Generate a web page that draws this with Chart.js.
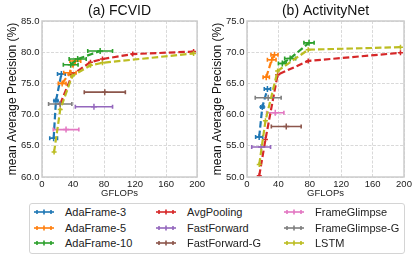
<!DOCTYPE html>
<html>
<head>
<meta charset="utf-8">
<script src="https://cdn.jsdelivr.net/npm/chart.js@4.4.0/dist/chart.umd.min.js"></script>
<style>
  body { margin: 0; background: #fff; }
  #wrap { position: relative; width: 415px; height: 258px; font-family: "Liberation Sans", Arial, sans-serif; }
  canvas { position: absolute; top: 0; }
  #c1 { left: 0; }
  #c2 { left: 205px; }
  #legend { position: absolute; left: 29px; top: 203px; width: 374px; height: 49px; border: 1px solid #d4d4d4; border-radius: 3px; background: #fff; }
  .item { position: absolute; height: 14px; display: flex; align-items: center; font-size: 11px; color: #222; white-space: nowrap; }
  .item svg { margin-right: 11px; flex: none; }
</style>
</head>
<body>
<div id="wrap">
  <canvas id="c1" width="207" height="200"></canvas>
  <canvas id="c2" width="210" height="200"></canvas>
  <div id="legend"></div>
</div>
<script>
// series, in legend order (matplotlib tab10 colours)
const names = ['AdaFrame-3', 'AdaFrame-5', 'AdaFrame-10', 'AvgPooling', 'FastForward', 'FastForward-G', 'FrameGlimpse', 'FrameGlimpse-G', 'LSTM'];
const colors = ['#1f77b4', '#ff7f0e', '#2ca02c', '#d62728', '#9467bd', '#8c564b', '#e377c2', '#7f7f7f', '#bcbd22'];
const withLine = [true, true, true, true, false, false, false, false, true];

// FCVID points: [GFLOPs, mAP, GFLOPs error]
const fcvidAda3 = [[15, 66.2, 5], [18, 72.2, 2.5], [25, 76.5, 5]];
const fcvidAda5 = [[26, 75.0, 5], [36, 76.7, 8], [43, 78.6, 7]];
const fcvidAda10 = [[37, 78.0, 9.5], [46, 78.9, 11], [75, 80.2, 16]];
const fcvidAvgPool = [[23.5, 71.7], [39, 76.4], [62.5, 78.4], [78, 78.9], [117, 79.7], [195.5, 80.1]];
const fcvidFastFwd = [[67, 71.25, 24]];
const fcvidFastFwdG = [[81, 73.6, 26.5]];
const fcvidGlimpse = [[31, 67.6, 16.5]];
const fcvidGlimpseG = [[23.5, 71.7, 15]];
const fcvidLstm = [[15.6, 64.0], [23.5, 70.8], [39, 76.2], [62.5, 77.9], [78, 78.3], [195.5, 79.8]];

// ActivityNet points
const anetAda3 = [[15.5, 56.4, 4.5], [19.5, 61.2, 2], [26, 64.1, 4]];
const anetAda5 = [[24.5, 66.0, 4], [31.5, 68.8, 5.5], [35, 69.6, 4.5]];
const anetAda10 = [[45, 68.2, 5], [55, 69.0, 7], [79, 71.5, 6.5]];
const anetAvgPool = [[15.6, 50.2], [23.5, 56.0], [39, 66.4], [78, 68.6], [195.5, 69.9]];
const anetFastFwd = [[18, 54.8, 12]];
const anetFastFwdG = [[50, 58.1, 19]];
const anetGlimpse = [[36, 60.3, 11]];
const anetGlimpseG = [[27, 62.7, 16.5]];
const anetLstm = [[15.6, 52.0], [23.5, 59.0], [39, 67.0], [78, 70.4], [195.5, 70.8]];

const xTicks = [0, 40, 80, 120, 160, 200];
const fcvidYTicks = [60, 65, 70, 75, 80, 85];
const anetYTicks = [50, 55, 60, 65, 70, 75];

const family = "'Liberation Sans', Arial, sans-serif";

// horizontal error bars with small caps, drawn right after each dataset
const errorBars = {
  id: 'errorBars',
  afterDatasetDraw(chart, args) {
    const ds = chart.data.datasets[args.index];
    if (!ds.xerr) return;
    const { ctx, scales: { x, y } } = chart;
    ctx.save();
    ctx.strokeStyle = ds.borderColor;
    ctx.lineWidth = 1.6;
    ds.data.forEach((p, i) => {
      const e = ds.xerr[i];
      if (!e) return;
      const x0 = x.getPixelForValue(p.x - e);
      const x1 = x.getPixelForValue(p.x + e);
      const py = y.getPixelForValue(p.y);
      ctx.beginPath();
      ctx.moveTo(x0, py); ctx.lineTo(x1, py);
      ctx.moveTo(x0, py - 2); ctx.lineTo(x0, py + 2);
      ctx.moveTo(x1, py - 2); ctx.lineTo(x1, py + 2);
      ctx.stroke();
    });
    ctx.restore();
  }
};

// light grey box round the plot area
const frame = {
  id: 'frame',
  afterDraw(chart) {
    const { ctx, chartArea: a } = chart;
    ctx.save();
    ctx.strokeStyle = '#cccccc';
    ctx.lineWidth = 1.5;
    ctx.strokeRect(a.left, a.top, a.right - a.left, a.bottom - a.top);
    ctx.restore();
  }
};

function makeChart(id, title, series, yTicks, padRight) {
  return new Chart(document.getElementById(id), {
    type: 'scatter',
    data: {
      datasets: series.map((pts, i) => ({
        label: names[i],
        data: pts.map(p => ({ x: p[0], y: p[1] })),
        xerr: pts.map(p => p[2] || 0),
        borderColor: colors[i],
        backgroundColor: colors[i],
        showLine: withLine[i],
        borderWidth: 2.2,
        borderDash: [6.5, 3],
        pointStyle: 'cross',
        pointRadius: withLine[i] && !pts[0][2] ? 2.5 : 3,
        pointBorderWidth: 1.5,
        pointHoverRadius: 3,
        order: names.length - i
      }))
    },
    options: {
      responsive: false,
      animation: false,
      devicePixelRatio: 1,
      layout: { padding: { left: 0, right: padRight, top: 0, bottom: 0 } },
      plugins: {
        legend: { display: false },
        tooltip: { enabled: false },
        title: {
          display: true, text: title, fullSize: false, color: '#111',
          font: { family, size: 14, weight: 'normal' },
          padding: { top: 3, bottom: 1.2 }
        }
      },
      scales: {
        x: {
          type: 'linear',
          min: xTicks[0], max: xTicks[xTicks.length - 1],
          afterBuildTicks: s => { s.ticks = xTicks.map(v => ({ value: v })); },
          afterFit: s => { s.height = 23; },
          grid: { color: '#cfcfcf', lineWidth: 0.8, drawTicks: false },
          border: { display: false, dash: [3, 1.5] },
          ticks: { padding: 2, color: '#222', maxRotation: 0, font: { family, size: 9.5 }, callback: v => v },
          title: { display: true, text: 'GFLOPs', color: '#222', font: { family, size: 9.5 }, padding: { top: 0, bottom: 1 } }
        },
        y: {
          type: 'linear',
          min: yTicks[0], max: yTicks[yTicks.length - 1],
          afterBuildTicks: s => { s.ticks = yTicks.map(v => ({ value: v })); },
          afterFit: s => { s.width = 42; },
          grid: { color: '#cfcfcf', lineWidth: 0.8, drawTicks: false },
          border: { display: false, dash: [3, 1.5] },
          ticks: { padding: 2.5, color: '#222', font: { family, size: 9.5 }, callback: v => v.toFixed(1) },
          title: { display: true, text: 'mean Average Precision (%)', color: '#111', font: { family, size: 12 }, padding: { top: 5, bottom: 0 } }
        }
      }
    },
    plugins: [errorBars, frame]
  });
}

makeChart('c1', '(a) FCVID',
  [fcvidAda3, fcvidAda5, fcvidAda10, fcvidAvgPool, fcvidFastFwd, fcvidFastFwdG, fcvidGlimpse, fcvidGlimpseG, fcvidLstm],
  fcvidYTicks, 8);
makeChart('c2', '(b) ActivityNet',
  [anetAda3, anetAda5, anetAda10, anetAvgPool, anetFastFwd, anetFastFwdG, anetGlimpse, anetGlimpseG, anetLstm],
  anetYTicks, 11);

// legend, three columns
const legend = document.getElementById('legend');
const colX = [4, 126, 254];
const rowY = [1, 17, 32];
names.forEach((n, i) => {
  const c = colors[i];
  const item = document.createElement('div');
  item.className = 'item';
  item.style.left = colX[Math.floor(i / 3)] + 'px';
  item.style.top = rowY[i % 3] + 'px';
  item.innerHTML =
    '<svg width="20" height="14"><g stroke="' + c + '" stroke-width="1.6">' +
    '<line x1="0" y1="7" x2="20" y2="7"/>' +
    '<line x1="3" y1="5" x2="3" y2="9"/><line x1="17" y1="5" x2="17" y2="9"/>' +
    '<line x1="10" y1="4.5" x2="10" y2="9.5"/></g></svg><span>' + n + '</span>';
  legend.appendChild(item);
});
</script>
</body>
</html>
